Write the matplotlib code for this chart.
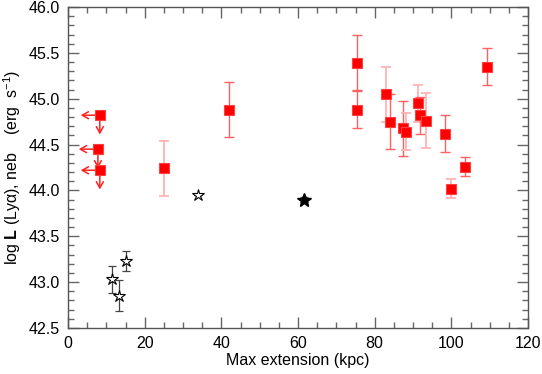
import numpy as np
import matplotlib
matplotlib.use("Agg")
import matplotlib.pyplot as plt
from matplotlib.ticker import MultipleLocator

plt.rcParams['font.family'] = ['Liberation Sans', 'DejaVu Sans']
plt.rcParams['mathtext.fontset'] = 'custom'
plt.rcParams['mathtext.rm'] = 'Liberation Sans'
plt.rcParams['mathtext.bf'] = 'Liberation Sans:bold'
plt.rcParams['mathtext.it'] = 'Liberation Sans:italic'

# red squares with error bars
ext_red = [25.0, 42.0, 75.3, 75.3, 83.0, 83.9, 87.5, 88.3, 91.2, 91.7, 93.4, 98.4, 100.0, 103.6, 109.3]
lum_red = [44.24, 44.88, 45.39, 44.88, 45.05, 44.75, 44.68, 44.64, 44.95, 44.82, 44.76, 44.62, 44.02, 44.26, 45.35]
err_red = [0.30, 0.30, 0.30, 0.20, 0.30, 0.30, 0.30, 0.20, 0.20, 0.20, 0.30, 0.20, 0.10, 0.10, 0.20]
light_red = [True, False, False, False, True, False, False, True, True, False, True, False, True, False, False]

# red upper limits
ext_lim = [8.3, 7.8, 8.3]
lum_lim = [44.82, 44.45, 44.22]

# open stars
ext_star = [11.4, 13.4, 15.2, 34.0]
lum_star = [43.03, 42.85, 43.23, 43.95]
err_star = [0.15, 0.17, 0.11, 0.0]

# filled star
ext_fstar = [61.5]
lum_fstar = [43.90]
err_fstar = [0.03]

fig = plt.figure(figsize=(5.42, 3.74), dpi=100)
ax = fig.add_axes([68 / 542, 1 - 328 / 374, 460 / 542, 321 / 374])

for x, y, e, lt in zip(ext_red, lum_red, err_red, light_red):
    c = '#ffb4b4' if lt else '#ff6060'
    ax.errorbar(x, y, yerr=e, fmt='none', ecolor=c, elinewidth=1.3 if lt else 1.0,
                capsize=3.5, capthick=1.3 if lt else 1.0, zorder=2)
ax.plot(ext_red, lum_red, 's', color='#ff0000', markersize=7.5,
        markeredgecolor='#ff4040', markeredgewidth=0.8, zorder=3)

arrow = dict(arrowstyle='->,head_length=0.45,head_width=0.25', color='#ff2020', lw=1.1,
             shrinkA=0, shrinkB=0)
for x, y in zip(ext_lim, lum_lim):
    ax.annotate('', xy=(x - 5.0, y), xytext=(x, y), arrowprops=arrow, zorder=2)
    ax.annotate('', xy=(x, y - 0.21), xytext=(x, y), arrowprops=arrow, zorder=2)
ax.plot(ext_lim, lum_lim, 's', color='#ff0000', markersize=7.5,
        markeredgecolor='#ff4040', markeredgewidth=0.8, zorder=3)

ax.errorbar(ext_star, lum_star, yerr=err_star, fmt='none', ecolor='#444444',
            elinewidth=0.9, capsize=3, capthick=0.9, zorder=2)
ax.plot(ext_star, lum_star, '*', markerfacecolor='white', markeredgecolor='black',
        markersize=9, markeredgewidth=0.8, zorder=3)

ax.errorbar(ext_fstar, lum_fstar, yerr=err_fstar, fmt='none', ecolor='#444444',
            elinewidth=0.9, capsize=3, capthick=0.9, zorder=2)
ax.plot(ext_fstar, lum_fstar, '*', color='black', markersize=10, zorder=3)

ax.set_xlim(0, 120)
ax.set_ylim(42.5, 46.0)
ax.xaxis.set_major_locator(MultipleLocator(20))
ax.xaxis.set_minor_locator(MultipleLocator(5))
ax.yaxis.set_major_locator(MultipleLocator(0.5))
ax.yaxis.set_minor_locator(MultipleLocator(0.1))
ax.xaxis.set_major_formatter(matplotlib.ticker.FormatStrFormatter('%.0f'))
ax.yaxis.set_major_formatter(matplotlib.ticker.FormatStrFormatter('%.1f'))

for s in ax.spines.values():
    s.set_color('#555555')
    s.set_linewidth(1.0)
ax.tick_params(which='both', direction='in', top=True, right=True, color='#666666',
               labelsize=11.5, labelcolor='black')
ax.tick_params(which='major', length=8, width=1.0, pad=6)
ax.tick_params(which='minor', length=4, width=1.0)

ax.set_xlabel('Max extension (kpc)', fontsize=11.5, labelpad=1)
ax.set_ylabel(r'log $\mathbf{L}$ (Lyα), neb    (erg  s$^{-1}$)', fontsize=11.5, labelpad=4)

fig.savefig('out.png', dpi=100)
